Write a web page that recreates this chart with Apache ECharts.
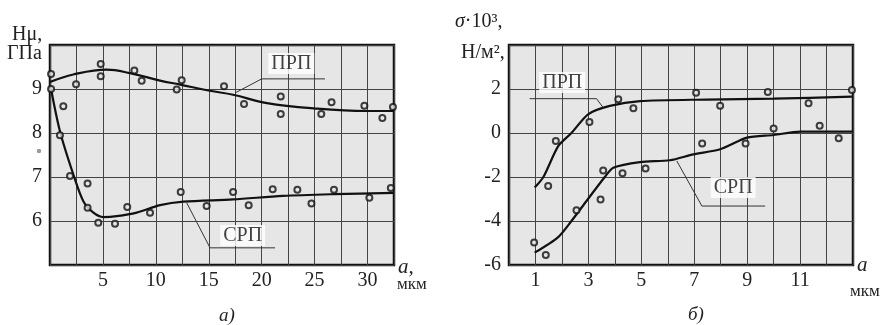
<!DOCTYPE html>
<html><head><meta charset="utf-8">
<script src="https://cdn.jsdelivr.net/npm/echarts@6/dist/echarts.min.js"></script>
<style>html,body{margin:0;padding:0;background:#fff}#c{width:892px;height:325px}</style>
</head><body><div id="c"></div>
<script>
// ---- Chart a) : Hμ vs a ----
const aXTicks = [5, 10, 15, 20, 25, 30];
const aYTicks = [6, 7, 8, 9];
const aPrpPtsX = [0.1, 2.46, 4.79, 4.79, 7.97, 8.66, 11.97, 12.44, 16.44, 18.33, 21.8, 21.8, 25.63, 26.6, 29.7, 31.4, 32.4];
const aPrpPtsY = [9.34, 9.11, 9.57, 9.29, 9.42, 9.19, 8.99, 9.2, 9.06, 8.66, 8.83, 8.43, 8.43, 8.7, 8.62, 8.34, 8.59];
const aSrpPtsX = [0.1, 0.94, 1.26, 1.89, 3.55, 3.55, 4.56, 6.14, 7.3, 9.45, 12.35, 14.8, 17.3, 18.77, 21.04, 23.37, 24.7, 26.83, 30.17, 32.2];
const aSrpPtsY = [9.0, 7.95, 8.61, 7.02, 6.85, 6.3, 5.96, 5.94, 6.32, 6.19, 6.66, 6.34, 6.66, 6.36, 6.72, 6.71, 6.4, 6.71, 6.53, 6.75];
const aPrpCurveX = [0, 2.2, 5.35, 7.56, 10.4, 12.3, 15.1, 17.3, 20.5, 24.9, 29.9, 32.5];
const aPrpCurveY = [9.16, 9.33, 9.44, 9.36, 9.19, 9.1, 8.96, 8.87, 8.68, 8.56, 8.5, 8.5];
const aSrpCurveX = [0.1, 0.94, 2.2, 3.15, 4.1, 5.04, 6.3, 8.19, 10.4, 12.6, 17.3, 22.0, 26.8, 32.5];
const aSrpCurveY = [9.0, 8.04, 7.06, 6.45, 6.19, 6.09, 6.11, 6.19, 6.36, 6.44, 6.49, 6.57, 6.61, 6.64];
// annotation leader lines (data coords)
const aPrpLeadX = [17.48, 20.0, 25.98], aPrpLeadY = [8.91, 9.23, 9.23];
const aSrpLeadX = [12.91, 15.12, 21.26], aSrpLeadY = [6.415, 5.39, 5.39];
const aPrpLabel = ['ПРП', 22.8, 9.58];
const aSrpLabel = ['СРП', 18.2, 5.67];

// ---- Chart б) : σ·10³ vs a ----
const bXTicks = [1, 3, 5, 7, 9, 11];
const bYTicks = [-6, -4, -2, 0, 2];
const bPrpPtsX = [1.48, 1.77, 3.04, 4.13, 4.7, 7.07, 7.98, 9.78, 11.32, 12.96];
const bPrpPtsY = [-2.41, -0.36, 0.5, 1.53, 1.12, 1.83, 1.24, 1.86, 1.35, 1.95];
const bSrpPtsX = [0.95, 1.39, 2.55, 3.46, 3.56, 4.29, 5.16, 7.3, 8.94, 10.0, 11.74, 12.46];
const bSrpPtsY = [-4.98, -5.55, -3.51, -3.02, -1.7, -1.83, -1.61, -0.48, -0.48, 0.2, 0.33, -0.24];
const bPrpCurveX = [0.97, 1.3, 1.86, 2.36, 2.99, 3.81, 4.95, 7.47, 10.0, 12.96];
const bPrpCurveY = [-2.48, -2.0, -0.6, 0.0, 0.85, 1.23, 1.45, 1.52, 1.56, 1.65];
const bSrpCurveX = [0.97, 1.86, 2.36, 2.93, 3.62, 3.94, 4.95, 6.08, 6.97, 7.98, 8.99, 10.0, 11.0, 12.96];
const bSrpCurveY = [-5.44, -4.73, -4.0, -3.09, -2.0, -1.58, -1.32, -1.24, -0.97, -0.74, -0.21, -0.09, 0.06, 0.06];
const bPrpLeadX = [0.78, 3.31, 3.56], bPrpLeadY = [1.56, 1.56, 1.15];
const bSrpLeadX = [6.34, 7.29, 9.68], bSrpLeadY = [-1.27, -3.32, -3.32];
const bPrpLabel = ['ПРП', 2.01, 2.3];
const bSrpLabel = ['СРП', 8.47, -2.48];

const FONT = 'Liberation Serif';
const zip = (xs, ys) => xs.map((x, i) => [x, ys[i]]);
const BG = '#e6e6e6';

function axisCommon(idx, min, max, interval, ticks, margin) {
  return {
    type: 'value', gridIndex: idx, min, max, interval,
    axisLine: {show: false}, axisTick: {show: false},
    splitLine: {show: true, lineStyle: {color: '#444', width: 1}},
    axisLabel: {margin: margin, color: '#222', fontFamily: FONT, fontSize: 20,
      formatter: v => ticks.some(t => Math.abs(t - v) < 1e-6) ? String(v) : ''}
  };
}
function curve(idx, xs, ys, smooth) {
  return {type: 'line', xAxisIndex: idx, yAxisIndex: idx, data: zip(xs, ys), smooth: smooth,
    symbol: 'none', lineStyle: {color: '#111', width: 2.2}, z: 3, silent: true};
}
function pts(idx, xs, ys) {
  return {type: 'scatter', xAxisIndex: idx, yAxisIndex: idx, data: zip(xs, ys), symbol: 'circle',
    symbolSize: 6, itemStyle: {color: BG, borderColor: '#111', borderWidth: 2}, z: 5};
}
function lead(idx, xs, ys) {
  return {type: 'line', xAxisIndex: idx, yAxisIndex: idx, data: zip(xs, ys), symbol: 'none',
    lineStyle: {color: '#333', width: 1}, z: 4, silent: true};
}
function label(idx, l) {
  return {type: 'scatter', xAxisIndex: idx, yAxisIndex: idx, data: [{value: [l[1], l[2]], name: l[0]}],
    symbolSize: 0, z: 6,
    label: {show: true, position: 'inside', formatter: '{b}', color: '#111', fontFamily: FONT, fontSize: 20,
      backgroundColor: '#fff', padding: [1, 3, 0, 3]}};
}

const chart = echarts.init(document.getElementById('c'), null, {renderer: 'canvas'});
chart.setOption({
  animation: false,
  backgroundColor: '#fff',
  grid: [
    {left: 50, top: 45, width: 344, height: 220, show: true, backgroundColor: BG, borderColor: '#111', borderWidth: 2.5},
    {left: 509, top: 45, width: 344, height: 220, show: true, backgroundColor: BG, borderColor: '#111', borderWidth: 2.5}
  ],
  xAxis: [axisCommon(0, 0, 32.5, 2.5, aXTicks, 6), axisCommon(1, 0, 13, 1, bXTicks, 6)],
  yAxis: [axisCommon(0, 5, 10, 1, aYTicks, 8), axisCommon(1, -6, 4, 2, bYTicks, 8)],
  series: [
    curve(0, aPrpCurveX, aPrpCurveY, 0.4),
    curve(0, aSrpCurveX, aSrpCurveY, 0.3),
    pts(0, aPrpPtsX, aPrpPtsY),
    pts(0, aSrpPtsX, aSrpPtsY),
    lead(0, aPrpLeadX, aPrpLeadY),
    lead(0, aSrpLeadX, aSrpLeadY),
    label(0, aPrpLabel),
    label(0, aSrpLabel),
    curve(1, bPrpCurveX, bPrpCurveY, 0.25),
    curve(1, bSrpCurveX, bSrpCurveY, 0.25),
    pts(1, bPrpPtsX, bPrpPtsY),
    pts(1, bSrpPtsX, bSrpPtsY),
    lead(1, bPrpLeadX, bPrpLeadY),
    lead(1, bSrpLeadX, bSrpLeadY),
    label(1, bPrpLabel),
    label(1, bSrpLabel)
  ],
  graphic: [
    {type: 'text', left: 12, top: 25, style: {text: 'Hμ,', font: '20px "Liberation Serif"', fill: '#222'}},
    {type: 'text', left: 7, top: 44, style: {text: 'ГПа', font: '20px "Liberation Serif"', fill: '#222'}},
    {type: 'circle', shape: {cx: 39, cy: 151, r: 2.2}, style: {fill: '#999'}},
    {type: 'text', left: 398, top: 257, style: {text: 'a,', font: 'italic 21px "Liberation Serif"', fill: '#222'}},
    {type: 'text', left: 397, top: 276, style: {text: 'мкм', font: '17px "Liberation Serif"', fill: '#222'}},
    {type: 'text', left: 219, top: 306, style: {text: 'a)', font: 'italic 19px "Liberation Serif"', fill: '#222'}},
    {type: 'text', left: 455, top: 12, style: {
      rich: {i: {fontFamily: FONT, fontStyle: 'italic', fontSize: 20, fill: '#222'}, n: {fontFamily: FONT, fontSize: 20, fill: '#222'}},
      text: '{i|σ}{n|·10³,}'}},
    {type: 'text', left: 461, top: 43, style: {text: 'Н/м²,', font: '20px "Liberation Serif"', fill: '#222'}},
    {type: 'text', left: 857, top: 255, style: {text: 'a', font: 'italic 21px "Liberation Serif"', fill: '#222'}},
    {type: 'text', left: 850, top: 283, style: {text: 'мкм', font: '17px "Liberation Serif"', fill: '#222'}},
    {type: 'text', left: 688, top: 305, style: {text: 'б)', font: 'italic 19px "Liberation Serif"', fill: '#222'}}
  ]
});
</script></body></html>
